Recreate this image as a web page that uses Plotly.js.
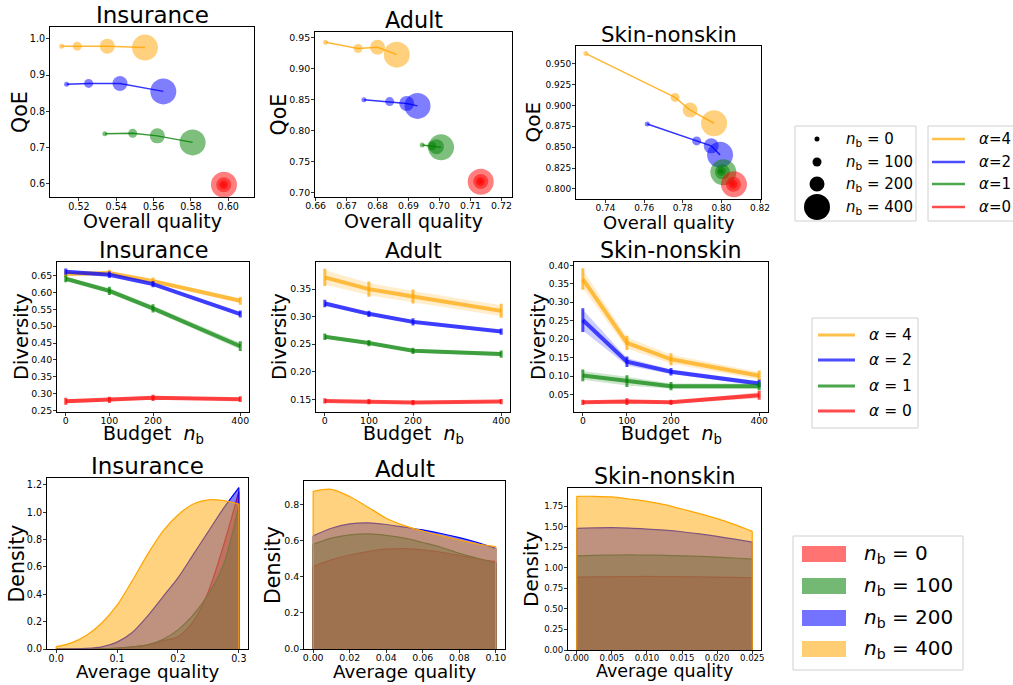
<!DOCTYPE html>
<html><head><meta charset="utf-8">
<script src="https://cdn.plot.ly/plotly-3.0.1.min.js"></script>
<style>html,body{margin:0;padding:0;background:#fff;}#chart{width:1013px;height:685px;}</style>
</head><body><div id="chart"></div>
<script>
// ---------------- DATA ----------------
const budgets = [0, 100, 200, 400];
const alphaLabels = ['4', '2', '1', '0'];

// Row 1: overall quality (x) vs QoE (y), one point per budget
const insQuality_a4 = [0.5107, 0.5191, 0.5352, 0.5554];
const insQoE_a4     = [0.980, 0.980, 0.980, 0.976];
const insQuality_a2 = [0.5134, 0.5252, 0.5420, 0.5652];
const insQoE_a2     = [0.875, 0.877, 0.877, 0.855];
const insQuality_a1 = [0.5339, 0.5488, 0.5620, 0.5809];
const insQoE_a1     = [0.738, 0.739, 0.732, 0.714];
const insQuality_a0 = [0.5975, 0.5975, 0.5976, 0.5977];
const insQoE_a0     = [0.597, 0.597, 0.597, 0.597];

const adQuality_a4 = [0.6632, 0.6737, 0.6800, 0.6862];
const adQoE_a4     = [0.943, 0.933, 0.935, 0.923];
const adQuality_a2 = [0.6756, 0.6839, 0.6894, 0.6929];
const adQoE_a2     = [0.850, 0.847, 0.844, 0.840];
const adQuality_a1 = [0.6944, 0.6975, 0.6990, 0.7005];
const adQoE_a1     = [0.7765, 0.775, 0.774, 0.7728];
const adQuality_a0 = [0.7132, 0.7132, 0.7133, 0.7133];
const adQoE_a0     = [0.7175, 0.7175, 0.7175, 0.7172];

const skQuality_a4 = [0.7298, 0.7760, 0.7838, 0.7962];
const skQoE_a4     = [0.9619, 0.9095, 0.8944, 0.8786];
const skQuality_a2 = [0.7616, 0.7872, 0.7947, 0.7993];
const skQoE_a2     = [0.8778, 0.8575, 0.8516, 0.8408];
const skQuality_a1 = [0.7995, 0.8000, 0.8005, 0.8010];
const skQoE_a1     = [0.8215, 0.8210, 0.8205, 0.8200];
const skQuality_a0 = [0.8058, 0.8060, 0.8062, 0.8065];
const skQoE_a0     = [0.8058, 0.8057, 0.8056, 0.8055];

// Row 2: diversity vs budget (mean, error)
const insDiv_a4 = [0.655, 0.658, 0.634, 0.5755]; const insErr_a4 = [0.006, 0.005, 0.006, 0.007];
const insDiv_a2 = [0.662, 0.653, 0.625, 0.536];  const insErr_a2 = [0.005, 0.005, 0.005, 0.006];
const insDiv_a1 = [0.641, 0.605, 0.553, 0.4405]; const insErr_a1 = [0.006, 0.008, 0.008, 0.010];
const insDiv_a0 = [0.277, 0.281, 0.287, 0.283];  const insErr_a0 = [0.006, 0.005, 0.005, 0.004];

const adDiv_a4 = [0.3713, 0.350, 0.3366, 0.3105]; const adErr_a4 = [0.013, 0.011, 0.010, 0.010];
const adDiv_a2 = [0.3239, 0.3051, 0.2905, 0.2729]; const adErr_a2 = [0.004, 0.003, 0.004, 0.003];
const adDiv_a1 = [0.2635, 0.252, 0.238, 0.232];    const adErr_a1 = [0.003, 0.003, 0.003, 0.004];
const adDiv_a0 = [0.147, 0.1458, 0.144, 0.1458];   const adErr_a0 = [0.002, 0.002, 0.002, 0.002];

const skDiv_a4 = [0.3627, 0.190, 0.1455, 0.101];  const skErr_a4 = [0.025, 0.015, 0.012, 0.010];
const skDiv_a2 = [0.2518, 0.139, 0.1117, 0.080];  const skErr_a2 = [0.028, 0.010, 0.006, 0.006];
const skDiv_a1 = [0.1018, 0.0863, 0.0727, 0.0727]; const skErr_a1 = [0.012, 0.012, 0.007, 0.007];
const skDiv_a0 = [0.029, 0.031, 0.029, 0.048];    const skErr_a0 = [0.003, 0.005, 0.003, 0.008];

// Row 3: density of average quality
const insGrid = [0, 0.025, 0.05, 0.075, 0.1, 0.125, 0.15, 0.175, 0.2, 0.225, 0.25, 0.275, 0.3];
const insDens_nb0   = [0, 0, 0, 0.002, 0.006, 0.015, 0.03, 0.06, 0.09, 0.20, 0.42, 0.76, 1.15];
const insDens_nb100 = [0, 0, 0, 0.002, 0.006, 0.015, 0.03, 0.07, 0.14, 0.25, 0.40, 0.62, 1.05];
const insDens_nb200 = [0, 0.001, 0.004, 0.015, 0.05, 0.12, 0.24, 0.38, 0.52, 0.69, 0.86, 1.03, 1.18];
const insDens_nb400 = [0.017, 0.045, 0.10, 0.19, 0.32, 0.50, 0.69, 0.86, 0.98, 1.06, 1.09, 1.085, 1.06];

const adGrid = [0, 0.01, 0.02, 0.03, 0.04, 0.05, 0.06, 0.07, 0.08, 0.09, 0.10];
const adDens_nb0   = [0.457, 0.494, 0.521, 0.540, 0.553, 0.556, 0.549, 0.536, 0.518, 0.500, 0.484];
const adDens_nb100 = [0.580, 0.614, 0.632, 0.638, 0.630, 0.614, 0.590, 0.564, 0.530, 0.503, 0.475];
const adDens_nb200 = [0.627, 0.669, 0.693, 0.699, 0.690, 0.675, 0.660, 0.640, 0.617, 0.590, 0.558];
const adDens_nb400 = [0.874, 0.885, 0.845, 0.786, 0.725, 0.684, 0.654, 0.628, 0.604, 0.582, 0.567];

const skGrid = [0, 0.0025, 0.005, 0.0075, 0.01, 0.0125, 0.015, 0.0175, 0.02, 0.0225, 0.025];
const skDens_nb0   = [0.888, 0.890, 0.892, 0.894, 0.896, 0.894, 0.892, 0.890, 0.888, 0.884, 0.880];
const skDens_nb100 = [1.148, 1.153, 1.157, 1.158, 1.157, 1.153, 1.148, 1.141, 1.132, 1.121, 1.108];
const skDens_nb200 = [1.482, 1.487, 1.490, 1.485, 1.474, 1.460, 1.441, 1.415, 1.384, 1.350, 1.315];
const skDens_nb400 = [1.873, 1.873, 1.865, 1.840, 1.812, 1.771, 1.718, 1.661, 1.600, 1.527, 1.446];

// ---------------- STYLE ----------------
const W = 1013, H = 685;
const FONT = 'DejaVu Sans, Verdana, sans-serif';
const px = v => v / W, py = v => 1 - v / H;
const RGB = {orange: [255,165,0], blue: [0,0,255], green: [0,128,0], red: [255,0,0]};
const rgba = (c, a) => `rgba(${RGB[c][0]},${RGB[c][1]},${RGB[c][2]},${a})`;
const alphaColors = ['orange', 'blue', 'green', 'red'];   // α = 4,2,1,0
const nbColors = ['red', 'green', 'blue', 'orange'];      // nb = 0,100,200,400
const markerSizes = [5, 9, 15, 26];

// axis boxes [left, right, top, bottom] in px
const boxes = {
  1: [50, 254, 27, 197], 2: [315, 512, 32, 197], 3: [576, 761, 46, 199],
  4: [57, 249, 262, 412], 5: [316, 510, 262, 412], 6: [574, 768, 262, 412],
  7: [47, 248, 478, 649], 8: [304, 505, 481, 649], 9: [568, 761, 488, 650]
};
// per-panel font sizes: [title, tick, xTitle, yTitle]
const fonts = {
  1: [23, 9.6, 19, 20.5], 2: [22.3, 9.4, 19, 20.5], 3: [21.3, 9.0, 18, 20],
  4: [22.3, 9.4, 19, 19.5], 5: [21.8, 9.4, 19, 19.5], 6: [22.2, 9.2, 19, 19.5],
  7: [23, 9.6, 18.3, 20.5], 8: [23, 9.4, 18.3, 20.5], 9: [22.2, 8.6, 17.5, 20]
};
// axis-title positions (px): x-title centre y, y-title centre x
const xTitleY = {1: 221, 2: 221, 3: 222, 4: 434, 5: 434, 6: 434, 7: 671, 8: 671, 9: 671};
const yTitleX = {1: 20, 2: 278, 3: 533, 4: 21, 5: 279, 6: 538, 7: 16, 8: 273, 9: 531};
const ref = (k) => (k === 1 ? '' : String(k));

const traces = [];

// Row 1
function row1(k, qs, qoes) {
  for (let i = 0; i < 4; i++) {
    const c = alphaColors[i];
    traces.push({
      type: 'scatter', mode: 'lines+markers', x: qs[i], y: qoes[i],
      xaxis: 'x' + ref(k), yaxis: 'y' + ref(k), showlegend: false, hoverinfo: 'skip',
      line: {color: rgba(c, 0.8), width: 1.5},
      marker: {size: markerSizes, color: rgba(c, 0.72), line: {width: 0}}
    });
  }
}
row1(1, [insQuality_a4, insQuality_a2, insQuality_a1, insQuality_a0], [insQoE_a4, insQoE_a2, insQoE_a1, insQoE_a0]);
row1(2, [adQuality_a4, adQuality_a2, adQuality_a1, adQuality_a0], [adQoE_a4, adQoE_a2, adQoE_a1, adQoE_a0]);
row1(3, [skQuality_a4, skQuality_a2, skQuality_a1, skQuality_a0], [skQoE_a4, skQoE_a2, skQoE_a1, skQoE_a0]);

// Row 2
function row2(k, means, errs) {
  for (let i = 0; i < 4; i++) {
    const c = alphaColors[i];
    const up = means[i].map((m, j) => m + errs[i][j]);
    const lo = means[i].map((m, j) => m - errs[i][j]);
    traces.push({
      type: 'scatter', mode: 'lines', x: budgets.concat(budgets.slice().reverse()),
      y: up.concat(lo.slice().reverse()), fill: 'toself', fillcolor: rgba(c, 0.2),
      line: {width: 0}, xaxis: 'x' + ref(k), yaxis: 'y' + ref(k), showlegend: false, hoverinfo: 'skip'
    });
    traces.push({
      type: 'scatter', mode: 'lines', x: budgets, y: means[i],
      line: {color: rgba(c, 0.7), width: 4},
      error_y: {type: 'data', array: errs[i], visible: true, color: rgba(c, 0.7), thickness: 3, width: 1.5},
      xaxis: 'x' + ref(k), yaxis: 'y' + ref(k), showlegend: false, hoverinfo: 'skip'
    });
  }
}
row2(4, [insDiv_a4, insDiv_a2, insDiv_a1, insDiv_a0], [insErr_a4, insErr_a2, insErr_a1, insErr_a0]);
row2(5, [adDiv_a4, adDiv_a2, adDiv_a1, adDiv_a0], [adErr_a4, adErr_a2, adErr_a1, adErr_a0]);
row2(6, [skDiv_a4, skDiv_a2, skDiv_a1, skDiv_a0], [skErr_a4, skErr_a2, skErr_a1, skErr_a0]);

// Row 3
function row3(k, grid, dens) {
  for (let i = 0; i < 4; i++) {
    const c = nbColors[i];
    const d = dens[i];
    traces.push({
      type: 'scatter', mode: 'lines', x: grid, y: d, fill: 'tozeroy',
      fillcolor: rgba(c, 0.5), line: {color: rgba(c, 1), width: 1.2, shape: 'spline', smoothing: 0.8},
      xaxis: 'x' + ref(k), yaxis: 'y' + ref(k), showlegend: false, hoverinfo: 'skip'
    });
    const n = grid.length - 1;
    traces.push({
      type: 'scatter', mode: 'lines', x: [grid[0], grid[0], null, grid[n], grid[n]],
      y: [0, d[0], null, 0, d[n]], line: {color: rgba(c, 1), width: 1.2},
      xaxis: 'x' + ref(k), yaxis: 'y' + ref(k), showlegend: false, hoverinfo: 'skip'
    });
  }
}
row3(7, insGrid, [insDens_nb0, insDens_nb100, insDens_nb200, insDens_nb400]);
row3(8, adGrid, [adDens_nb0, adDens_nb100, adDens_nb200, adDens_nb400]);
row3(9, skGrid, [skDens_nb0, skDens_nb100, skDens_nb200, skDens_nb400]);

// ---------------- LAYOUT ----------------
const axisBase = {
  showgrid: false, zeroline: false, showline: true, mirror: true, linecolor: '#000', linewidth: 1,
  ticks: 'outside', ticklen: 3, tickwidth: 0.8, tickcolor: '#000', fixedrange: true
};
const range = (a, b, s) => { const o = []; for (let v = a; v <= b + s / 2; v += s) o.push(+v.toFixed(4)); return o; };
const axes = {
  1: {x: [[0.5045, 0.6138], range(0.52, 0.60, 0.02), '.2f'], y: [[0.563, 1.033], range(0.6, 1.0, 0.1), '.1f']},
  2: {x: [[0.6598, 0.7234], range(0.66, 0.72, 0.01), '.2f'], y: [[0.6924, 0.9597], range(0.70, 0.95, 0.05), '.2f']},
  3: {x: [[0.7247, 0.8205], range(0.74, 0.82, 0.02), '.2f'], y: [[0.788, 0.971], range(0.8, 0.95, 0.025), '.3f']},
  4: {x: [[-20, 420], budgets, 'd'], y: [[0.245, 0.6908], range(0.25, 0.65, 0.05), '.2f']},
  5: {x: [[-20, 420], budgets, 'd'], y: [[0.1269, 0.3992], range(0.15, 0.35, 0.05), '.2f']},
  6: {x: [[-20, 420], budgets, 'd'], y: [[0.0028, 0.409], range(0.05, 0.40, 0.05), '.2f']},
  7: {x: [[-0.015, 0.315], range(0, 0.3, 0.1), '.1f'], y: [[0, 1.25], range(0, 1.2, 0.2), '.1f']},
  8: {x: [[-0.005, 0.105], range(0, 0.1, 0.02), '.2f'], y: [[0, 0.931], range(0, 0.8, 0.2), '.1f']},
  9: {x: [[-0.00125, 0.02625], range(0, 0.025, 0.005), '.3f'], y: [[0, 1.974], range(0, 1.75, 0.25), '.2f']}
};
const xTitles = {1: 'Overall quality', 4: 'Budget\u00a0\u00a0<i>n</i><sub>b</sub>', 7: 'Average quality'};
const yTitles = {1: 'QoE', 4: 'Diversity', 7: 'Density'};
const panelTitles = ['Insurance', 'Adult', 'Skin-nonskin'];

const layout = {
  width: W, height: H, margin: {l: 0, r: 0, t: 0, b: 0}, paper_bgcolor: '#fff', plot_bgcolor: '#fff',
  showlegend: false, font: {family: FONT, color: '#000'}, annotations: [], shapes: []
};
const ann = (o) => layout.annotations.push(Object.assign({xref: 'paper', yref: 'paper', showarrow: false}, o));
for (let k = 1; k <= 9; k++) {
  const [l, r, t, b] = boxes[k];
  const [fT, fTick, fX, fY] = fonts[k];
  const rowStart = k <= 3 ? 1 : (k <= 6 ? 4 : 7);
  const tf = {family: FONT, size: fTick, color: '#000'};
  layout['xaxis' + ref(k)] = Object.assign({}, axisBase, {
    domain: [px(l), px(r)], range: axes[k].x[0], tickvals: axes[k].x[1], tickformat: axes[k].x[2],
    anchor: 'y' + ref(k), tickfont: tf, ticklabelstandoff: -3
  });
  layout['yaxis' + ref(k)] = Object.assign({}, axisBase, {
    domain: [py(b), py(t)], range: axes[k].y[0], tickvals: axes[k].y[1], tickformat: axes[k].y[2],
    anchor: 'x' + ref(k), tickfont: tf, ticklabelstandoff: -1
  });
  ann({text: panelTitles[(k - 1) % 3], x: px((l + r) / 2), y: py(t - 12), xanchor: 'center', yanchor: 'middle',
       font: {family: FONT, size: fT, color: '#000'}});
  ann({text: xTitles[rowStart], x: px((l + r) / 2), y: py(xTitleY[k]), xanchor: 'center', yanchor: 'middle',
       font: {family: FONT, size: fX, color: '#000'}});
  ann({text: yTitles[rowStart], x: px(yTitleX[k]), y: py((t + b) / 2), xanchor: 'center', yanchor: 'middle',
       textangle: -90, font: {family: FONT, size: fY, color: '#000'}});
}

// ---------- manual legends ----------
function box(l, t, r, b) {
  layout.shapes.push({type: 'rect', xref: 'paper', yref: 'paper', x0: px(l), x1: px(r), y0: py(b), y1: py(t),
    line: {color: '#d0d0d0', width: 1}, fillcolor: 'rgba(255,255,255,0.9)', layer: 'above'});
}
function label(text, x, y, size) {
  ann({text, x: px(x), y: py(y), xanchor: 'left', yanchor: 'middle', font: {family: FONT, size, color: '#000'}});
}
const nbLabels = budgets.map(b => `<i>n</i><sub>b</sub> = ${b}`);
const legRows = [139, 162, 184, 207];
// legend 1: marker sizes
box(795, 126, 916, 221);
legRows.forEach((y, i) => {
  const r = markerSizes[i] / 2;
  layout.shapes.push({type: 'circle', xref: 'paper', yref: 'paper', x0: px(817 - r), x1: px(817 + r),
    y0: py(y + r), y1: py(y - r), fillcolor: '#000', line: {width: 0}, layer: 'above'});
  label(nbLabels[i], 844, y, 15);
});
// legend 2: α lines (top row)
box(928, 126, 1020, 221);
legRows.forEach((y, i) => {
  layout.shapes.push({type: 'line', xref: 'paper', yref: 'paper', x0: px(932), x1: px(965), y0: py(y), y1: py(y),
    line: {color: rgba(alphaColors[i], 0.7), width: 2.5}, layer: 'above'});
  label(`<i>α</i>=${alphaLabels[i]}`, 977, y, 15);
});
// legend 3: α lines (middle row)
box(812, 318, 918, 428);
[335, 360, 386, 411].forEach((y, i) => {
  layout.shapes.push({type: 'line', xref: 'paper', yref: 'paper', x0: px(818), x1: px(855), y0: py(y), y1: py(y),
    line: {color: rgba(alphaColors[i], 0.7), width: 3}, layer: 'above'});
  label(`<i>α</i> = ${alphaLabels[i]}`, 867, y, 15.5);
});
// legend 4: density fills
box(793, 536, 963, 670);
[554, 586, 618, 649].forEach((y, i) => {
  layout.shapes.push({type: 'rect', xref: 'paper', yref: 'paper', x0: px(802), x1: px(846), y0: py(y + 8), y1: py(y - 8),
    fillcolor: rgba(nbColors[i], 0.55), line: {width: 0}, layer: 'above'});
  label(nbLabels[i], 862, y, 20);
});

Plotly.newPlot('chart', traces, layout, {staticPlot: true});
</script></body></html>
